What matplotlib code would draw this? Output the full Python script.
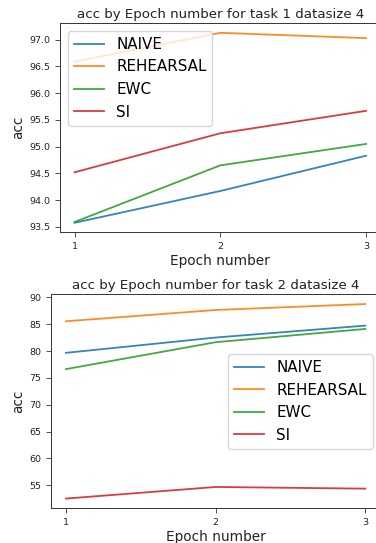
import matplotlib
matplotlib.use("Agg")
import matplotlib.pyplot as plt

epochs = [1, 2, 3]
methods = ["NAIVE", "REHEARSAL", "EWC", "SI"]

task1_naive = [93.575, 94.17, 94.83]
task1_rehearsal = [96.59, 97.13, 97.03]
task1_ewc = [93.59, 94.65, 95.05]
task1_si = [94.52, 95.25, 95.67]

task2_naive = [79.67, 82.52, 84.74]
task2_rehearsal = [85.55, 87.65, 88.76]
task2_ewc = [76.64, 81.65, 84.12]
task2_si = [52.53, 54.69, 54.38]

W, H = 376, 543
fig = plt.figure(figsize=(W / 100, H / 100), dpi=100)

def px_axes(left, top, right, bottom):
    return fig.add_axes([left / W, 1 - bottom / H, (right - left) / W, (bottom - top) / H])

ax1 = px_axes(60, 23.3, 380.6, 232.3)
ax2 = px_axes(51, 294.3, 380.3, 508.3)

tick_fs = 6.8
label_fs = 9.8
title_fs = 9.6
legend_fs = 10.9

for ax, series, title, loc in [
    (ax1, [task1_naive, task1_rehearsal, task1_ewc, task1_si], "acc by Epoch number for task 1 datasize 4", "upper left"),
    (ax2, [task2_naive, task2_rehearsal, task2_ewc, task2_si], "acc by Epoch number for task 2 datasize 4", "center right"),
]:
    for name, vals in zip(methods, series):
        ax.plot(epochs, vals, label=name, linewidth=1.3, alpha=0.9)
    ax.set_xticks(epochs)
    ax.tick_params(labelsize=tick_fs, length=3.5, width=0.6, colors="#333333", labelcolor="#222222")
    ax.set_xlabel("Epoch number", fontsize=label_fs, labelpad=2.5, color="#222222")
    ax.set_ylabel("acc", fontsize=label_fs, labelpad=3, color="#222222")
    ax.set_title(title, fontsize=title_fs, pad=4, color="#222222")
    for s in ax.spines.values():
        s.set_linewidth(0.7)
        s.set_color("#333333")
    ax.legend(loc=loc, fontsize=legend_fs)

fig.savefig("out.png", dpi=100)
